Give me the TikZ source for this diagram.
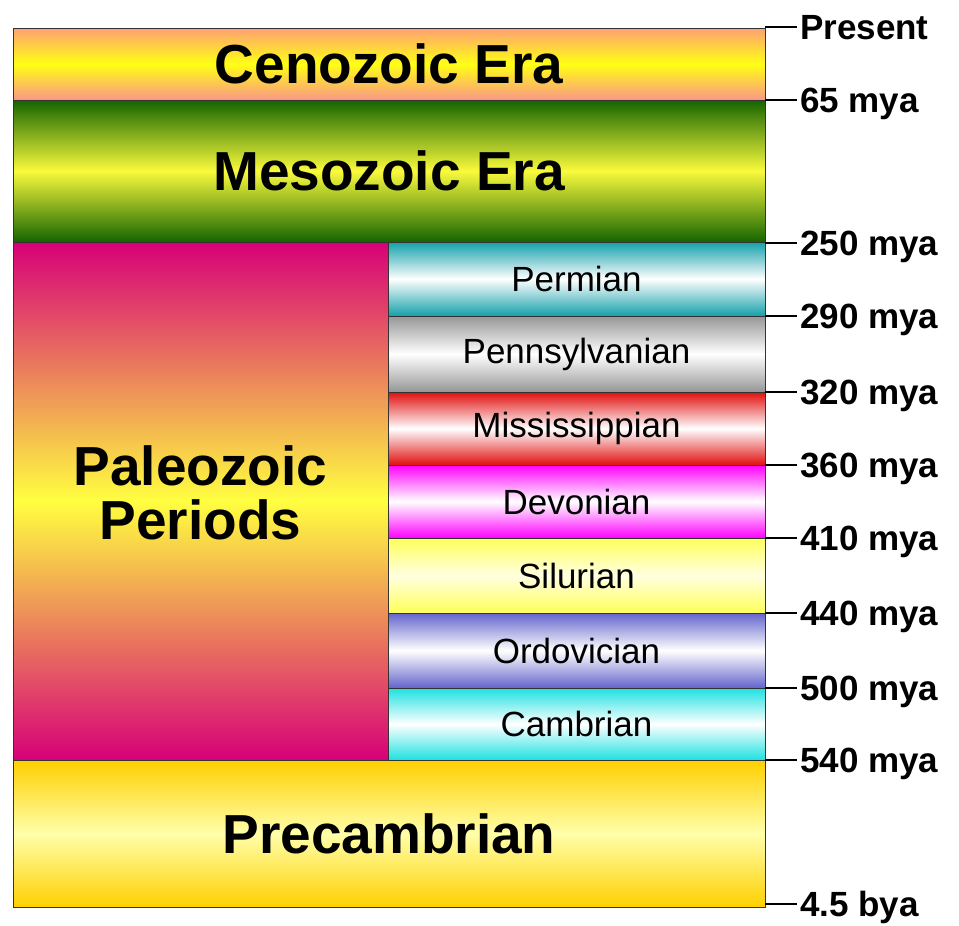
\documentclass[tikz,border=0pt]{standalone}
\usepackage{fontspec}
\setmainfont{Liberation Sans}
\usepackage{xcolor}
\usetikzlibrary{positioning}

\definecolor{cenoEdge}{RGB}{255,160,115}
\definecolor{cenoLow}{RGB}{250,150,135}
\definecolor{cenoMid}{RGB}{255,255,20}
\definecolor{mesoEdge}{RGB}{20,100,0}
\definecolor{mesoMid}{RGB}{250,250,60}
\definecolor{paleoEdge}{RGB}{215,0,120}
\definecolor{paleoMid}{RGB}{255,255,64}
\definecolor{permCol}{RGB}{20,160,170}
\definecolor{pennCol}{RGB}{150,150,150}
\definecolor{missCol}{RGB}{225,15,15}
\definecolor{devoCol}{RGB}{255,0,255}
\definecolor{siluCol}{RGB}{255,255,90}
\definecolor{siluMid}{RGB}{255,255,225}
\definecolor{ordoCol}{RGB}{100,100,205}
\definecolor{cambCol}{RGB}{30,225,225}
\definecolor{precEdge}{RGB}{255,208,0}
\definecolor{precMid}{RGB}{255,255,170}

\begin{document}
\begin{tikzpicture}[
    x=1pt, y=-1pt,
    band/.style={draw=black!80, line width=0.9pt, inner sep=0pt, align=center},
    era/.style={band, minimum width=752pt, font=\fontsize{55}{54}\selectfont\bfseries},
    period/.style={band, minimum width=377pt, font=\fontsize{35}{40}\selectfont},
    age/.style={anchor=west, inner xsep=3pt, inner ysep=0pt, text height=25pt,
        text depth=0pt, font=\fontsize{35}{40}\selectfont\bfseries},
    tick/.style={line width=1.6pt},
]
    \useasboundingbox (0,0) rectangle (959,926);
    % eras
    \node[era, minimum height=72pt, top color=cenoEdge, bottom color=cenoLow,
        middle color=cenoMid] (ceno) at (389,64) {Cenozoic Era};
    \node[era, minimum height=142pt, top color=mesoEdge, bottom color=mesoEdge,
        middle color=mesoMid] (meso) at (389,171) {Mesozoic Era};
    \node[band, minimum width=375pt, minimum height=518pt, text depth=16pt,
        font=\fontsize{55}{54}\selectfont\bfseries,
        top color=paleoEdge, bottom color=paleoEdge, middle color=paleoMid] (paleo) at (200.5,501)
        {Paleozoic\\Periods};
    \node[era, minimum height=147pt, top color=precEdge, bottom color=precEdge,
        middle color=precMid] (prec) at (389,833.5) {Precambrian};
    % periods
    \foreach \nm/\ya/\yb/\clr/\mid/\txt in {
        perm/242/316/permCol/white/Permian,
        penn/316/392/pennCol/white/Pennsylvanian,
        miss/392/465/missCol/white/Mississippian,
        devo/465/538/devoCol/white/Devonian,
        silu/538/613/siluCol/siluMid/Silurian,
        ordo/613/688/ordoCol/white/Ordovician,
        camb/688/760/cambCol/white/Cambrian} {
        \node[period, minimum height={(\yb-\ya)*1pt}, top color=\clr, bottom color=\clr,
            middle color=\mid] (\nm) at (576.5,{(\ya+\yb)/2}) {\txt};
    }
    % time scale
    \foreach \nm/\y/\txt in {
        present/27/Present, m65/100/65 mya, m250/243/250 mya, m290/316/290 mya,
        m320/392/320 mya, m360/465/360 mya, m410/538/410 mya, m440/613/440 mya,
        m500/688/500 mya, m540/760/540 mya, b45/904/4.5 bya} {
        \coordinate (c-\nm) at (765,\y);
        \node[age] (l-\nm) at (797,\y) {\txt};
        \draw[tick] (c-\nm) -- (l-\nm.west);
    }
\end{tikzpicture}
\end{document}
